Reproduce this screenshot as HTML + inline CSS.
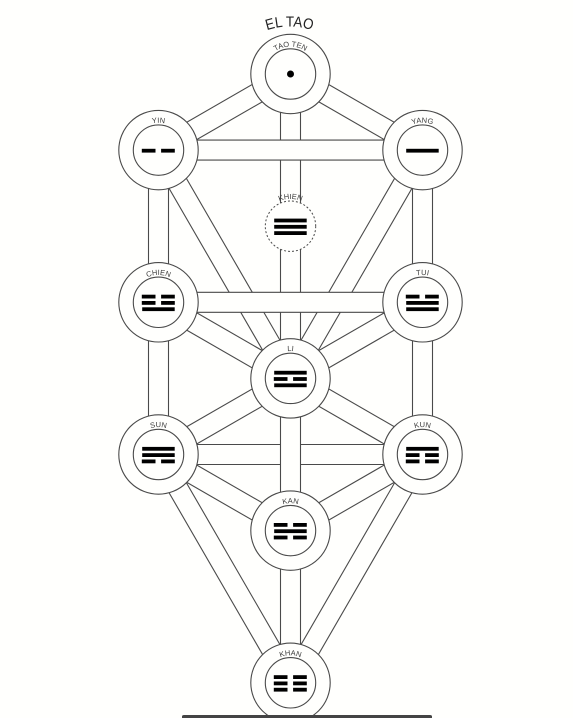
<!DOCTYPE html>
<html lang="es">
<head>
<meta charset="utf-8">
<title>El Tao</title>
<style>
html,body{margin:0;padding:0;background:#fffffd;}
body{width:573px;height:718px;overflow:hidden;position:relative;}
svg{position:absolute;left:0;top:0;display:block;}
text{font-family:"Liberation Sans","DejaVu Sans",sans-serif;}
</style>
</head>
<body>
<svg id="tree" width="573" height="718" viewBox="0 0 573 718" xmlns="http://www.w3.org/2000/svg">
  <rect x="0" y="0" width="573" height="718" fill="#fffffd"/>
  <g id="edges"></g>
  <g id="nodes"></g>
  <path id="title-arc" d="M219.5 96.5 A70 70 0 0 1 359.5 96.5" fill="none"/>
  <text font-size="15" fill="#222" text-anchor="middle"><textPath href="#title-arc" startOffset="50%" textLength="46" lengthAdjust="spacingAndGlyphs">EL TAO</textPath></text>
  <path d="M182 718 V716.5 Q182 715 184 715 H430 Q432 715 432 716.5 V718 Z" fill="#444"/>
</svg>
<script>
// Node data: names, grid position, trigram lines (top to bottom; 1 = solid, 0 = broken)
const nodeIds   = ['tao','yin','yang','khien','chien','tui','li','sun','kun','kan','khan'];
const nodeNames = ['TAO TEN','YIN','YANG','KHIEN','CHIEN','TUI','LI','SUN','KUN','KAN','KHAN'];
const nodeCols  = [0,-1,1,0,-1,1,0,-1,1,0,0];
const nodeRows  = [0,1,1,2,3,3,4,5,5,6,8];
const nodeLines = [[],[0],[1],[1,1,1],[0,0,1],[0,1,1],[1,0,1],[1,1,0],[1,0,0],[0,1,0],[0,0,0]];
// Paths, listed in painting order (later paths pass over earlier ones)
const edgeFrom = ['tao','tao','yin','yang','sun','kun','kan','yin','chien','yang','tui','tao','yin','chien','sun','chien','tui','sun','kun','sun','kun','li'];
const edgeTo   = ['yin','yang','chien','tui','khan','khan','khan','li','sun','li','kun','li','yang','tui','kun','li','li','kan','kan','li','li','kan'];

const SVGNS = 'http://www.w3.org/2000/svg';
const xScale = c => 290.5 + c * 132;
const yScale = r => 74 + r * 76.1;
const HALF = 10, OUTER = 39.7, INNER = 25.2, STROKE = '#4a4a4a';

function mk(tag, attrs){
  const el = document.createElementNS(SVGNS, tag);
  for (const k in attrs) el.setAttribute(k, attrs[k]);
  return el;
}
const pos = id => {
  const i = nodeIds.indexOf(id);
  return {x: xScale(nodeCols[i]), y: yScale(nodeRows[i])};
};

const edgeLayer = document.getElementById('edges');
edgeFrom.forEach((from, i) => {
  const a = pos(from), b = pos(edgeTo[i]);
  const dx = b.x - a.x, dy = b.y - a.y, len = Math.hypot(dx, dy);
  const nx = -dy / len * HALF, ny = dx / len * HALF;
  const g = mk('g', {});
  
  
  g.appendChild(mk('polygon', {
    points: [[a.x+nx,a.y+ny],[b.x+nx,b.y+ny],[b.x-nx,b.y-ny],[a.x-nx,a.y-ny]].map(p => p.join(',')).join(' '),
    fill: '#fffffd'
  }));
  [1, -1].forEach(s => {
    g.appendChild(mk('line', {
      x1: a.x + s*nx, y1: a.y + s*ny, x2: b.x + s*nx, y2: b.y + s*ny,
      stroke: STROKE, 'stroke-width': 1.1
    }));
  });
  edgeLayer.appendChild(g);
});

const nodeLayer = document.getElementById('nodes');
nodeIds.forEach((id, i) => {
  const cx = xScale(nodeCols[i]), cy = yScale(nodeRows[i]);
  const g = mk('g', {});
  
  

  if (id === 'khien') {
    g.appendChild(mk('circle', {cx, cy, r: INNER, fill: '#fffffd', stroke: STROKE, 'stroke-width': 1, 'stroke-dasharray': '2 2'}));
  } else {
    g.appendChild(mk('circle', {cx, cy, r: OUTER, fill: '#fffffd', stroke: STROKE, 'stroke-width': 1.1}));
    g.appendChild(mk('circle', {cx, cy, r: INNER, fill: '#fffffd', stroke: STROKE, 'stroke-width': 1.1}));
  }

  if (id === 'tao') {
    g.appendChild(mk('circle', {cx, cy, r: 3.5, fill: '#000'}));
  }

  const lines = nodeLines[i];
  lines.forEach((solid, k) => {
    const y = cy + 0.6 + (k - (lines.length - 1) / 2) * 6.3 - 1.9;
    const segs = solid ? [[-16.3, 32.5]] : [[-16.7, 13.7], [2.6, 13.7]];
    segs.forEach(s => {
      const bar = mk('rect', {x: cx + s[0], y, width: s[1], height: 3.8, fill: '#000'});
      
      
      g.appendChild(bar);
    });
  });

  const r = 27.4;
  const arcId = 'arc-' + id;
  g.appendChild(mk('path', {id: arcId, d: `M${cx-r} ${cy} A${r} ${r} 0 0 1 ${cx+r} ${cy}`, fill: 'none'}));
  const label = mk('text', {'font-size': 7.5, fill: '#3c3c3c', 'text-anchor': 'middle'});
  
  
  const tp = mk('textPath', {href: '#' + arcId, startOffset: '50%'});
  tp.textContent = nodeNames[i];
  label.appendChild(tp);
  g.appendChild(label);

  nodeLayer.appendChild(g);
});
</script>
</body>
</html>
